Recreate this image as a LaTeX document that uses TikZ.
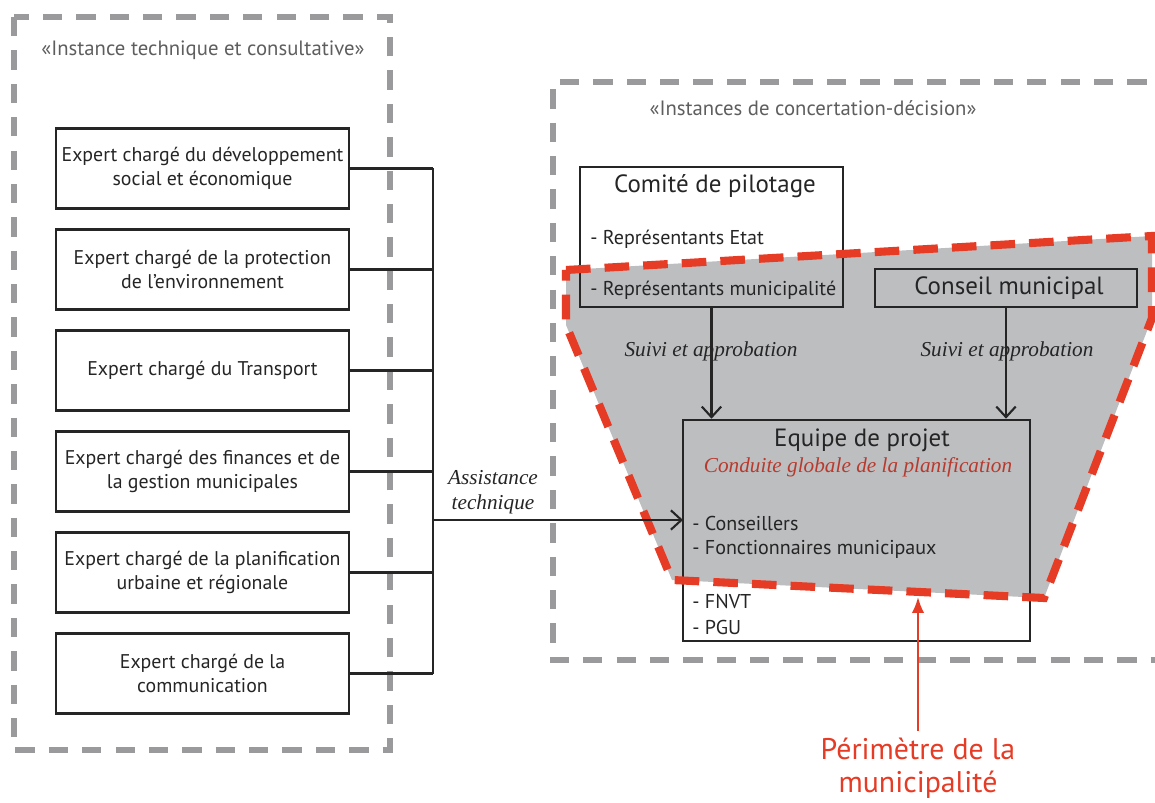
\documentclass[tikz,border=0pt]{standalone}
\usepackage{fontspec}
\setmainfont{PT Sans}
\newfontfamily\labfont{Liberation Serif}
\usetikzlibrary{arrows.meta,positioning}
\definecolor{FrameGray}{HTML}{9A9A9C}
\definecolor{TitleGray}{HTML}{5E5E5E}
\definecolor{ZoneGray}{HTML}{BDBEC0}
\definecolor{ZoneRed}{HTML}{E63B25}
\definecolor{LeadRed}{HTML}{B83A2E}
\definecolor{InkGray}{HTML}{252525}

\begin{document}
\begin{tikzpicture}[x=0.02cm,y=-0.02cm,>={Straight Barb[length=6pt,width=11pt]},
  frame/.style={FrameGray,line width=3.4pt,dash pattern=on 11pt off 8pt},
  zone/.style={ZoneRed,line width=4.6pt,dash pattern=on 14pt off 8pt},
  box/.style={draw=InkGray,line width=1.5pt,inner sep=0pt},
  expertbox/.style={box,minimum width=5.86cm,minimum height=1.6cm,align=center,
    font=\fontsize{11.3}{14}\selectfont,text=InkGray},
  item/.style={anchor=west,font=\fontsize{11.4}{13}\selectfont,text=InkGray,inner sep=0pt},
  head/.style={font=\fontsize{14.2}{16}\selectfont,text=InkGray,inner sep=0pt},
  frametitle/.style={font=\fontsize{11.8}{13}\selectfont,text=TitleGray},
  flowlabel/.style={font=\labfont\itshape\fontsize{12.1}{14}\selectfont,text=InkGray,align=center}]
  \useasboundingbox (0,0) rectangle (1155,803);

  \draw[frame] (14,17) rectangle (390,750);
  \draw[frame] (1180,82) -- (553,82) -- (553,660) -- (1180,660);
  \node[frametitle] (ttech) at (203,50) {«Instance technique et consultative»};
  \node[frametitle] (tconc) at (813,108) {«Instances de concertation-décision»};

  \fill[ZoneGray] (566,270) -- (1152,236) -- (1152,318) -- (1044,598)
    -- (672,580) -- (566,325) -- cycle;

  \foreach \i/\txt in {1/{Expert chargé du développement\\social et économique},
      2/{Expert chargé de la protection\\de l’environnement},
      3/{Expert chargé du Transport},
      4/{Expert chargé des finances et de\\la gestion municipales},
      5/{Expert chargé de la planification\\urbaine et régionale},
      6/{Expert chargé de la\\communication}}{
    \node[expertbox] (e\i) at (202.5,168.5+101*\i-101) {\txt};
  }
  \coordinate (bus) at (433,0);
  \foreach \i in {1,...,6}
    \draw[InkGray,line width=1.2pt] (e\i.east) -- (e\i.east -| bus);
  \draw[InkGray,line width=1.2pt] (e1.east -| bus) -- (e6.east -| bus);

  \node[box,minimum width=5.26cm,minimum height=2.8cm] (comite) at (711.5,237) {};
  \node[box,minimum width=5.24cm,minimum height=0.76cm] (conseil) at (1006,288) {};
  \node[box,minimum width=6.94cm,minimum height=4.42cm] (equipe) at (856.5,530.5) {};

  \node[head] (tcomite) at (715,186) {Comité de pilotage};
  \node[item] (etat) at (590,239) {- Représentants Etat};
  \node[item] (muni) at (590,290) {- Représentants municipalité};
  \node[head] (tconseil) at (1009,288) {Conseil municipal};
  \node[head] (tequipe) at (862,440) {Equipe de projet};
  \node[flowlabel,text=LeadRed] (lead) at (858,467) {Conduite globale de la planification};
  \node[item] (cons) at (692,523) {- Conseillers};
  \node[item] (fonc) at (692,549) {- Fonctionnaires municipaux};
  \node[item] (fnvt) at (692,601) {- FNVT};
  \node[item] (pgu) at (692,627) {- PGU};

  \draw[zone] (566,270) -- (1152,236) -- (1152,318) -- (1044,598)
    -- (672,580) -- (566,325) -- cycle;

  \draw[->,InkGray,line width=1.2pt] (comite.south) -- (comite.south |- equipe.north);
  \draw[->,InkGray,line width=1.2pt] (conseil.south) -- (conseil.south |- equipe.north);
  \node[flowlabel] (suivi1) at (711,351) {Suivi et approbation};
  \node[flowlabel] (suivi2) at (1007,351) {Suivi et approbation};

  \coordinate (aIn) at (683,520);
  \draw[->,InkGray,line width=1.2pt] (bus |- aIn) -- (aIn);
  \node[flowlabel] (assist) at (493,492) {Assistance\\technique};

  \node[font=\fontsize{17}{19}\selectfont,text=ZoneRed,align=center] (perim) at (918,768)
    {Périmètre de la\\municipalité};
  \coordinate (edge) at (918,597);
  \draw[-{Latex[length=9pt,width=7pt]},ZoneRed,line width=1.2pt] (perim.north) -- (edge);
\end{tikzpicture}
\end{document}
